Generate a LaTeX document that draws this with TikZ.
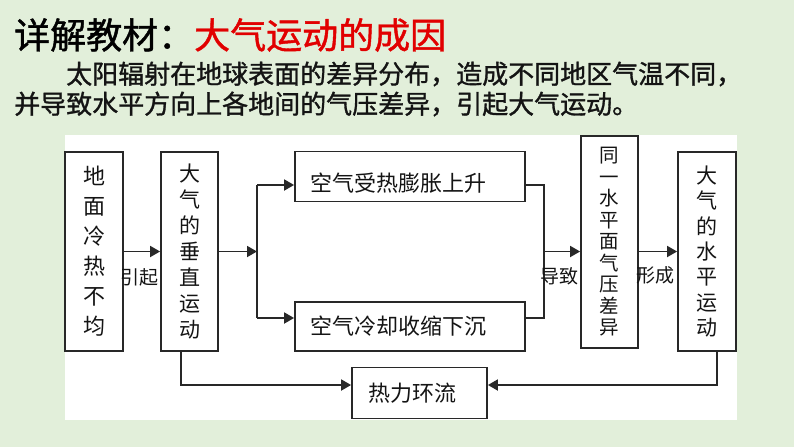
\documentclass[tikz,border=0pt]{standalone}
\usepackage{fontspec}
\newfontfamily\cjk{Noto Sans CJK SC}
\newfontfamily\cjkm[FakeBold=1.2]{Noto Sans CJK SC}
\usetikzlibrary{arrows.meta}
\definecolor{bgc}{RGB}{226,239,218}
\definecolor{titlered}{RGB}{225,0,0}
\definecolor{linec}{RGB}{40,40,40}
\definecolor{txtc}{RGB}{20,20,20}
\begin{document}
\begin{tikzpicture}[x=1pt,y=-1pt,
  box/.style={draw=linec, line width=1.8pt, fill=white, inner sep=0pt, text=txtc,
    font=\cjk\fontsize{22}{30}\selectfont, align=center},
  boxtxt/.style={anchor=west, inner sep=0pt, text=txtc, font=\cjk\fontsize{22}{22}\selectfont},
  conn/.style={draw=linec, line width=1.8pt},
  arr/.style={conn, -{Triangle[length=10pt,width=11pt]}},
  lbl/.style={inner sep=0pt, text=txtc, font=\cjk\fontsize{19}{19}\selectfont}]
\fill[bgc] (0,0) rectangle (794,447);
\useasboundingbox (0,0) rectangle (794,447);
\fill[white] (65,135) rectangle (737,420);
% heading
\node[anchor=west, inner sep=0pt, font=\cjkm\fontsize{36}{36}\selectfont] (title) at (14,35)
  {详解教材：\textcolor{titlered}{大气运动的成因}};
\node[anchor=west, inner sep=0pt, text=txtc, font=\cjkm\fontsize{26}{26}\selectfont] (para1) at (66,74)
  {太阳辐射在地球表面的差异分布，造成不同地区气温不同，};
\node[anchor=west, inner sep=0pt, text=txtc, font=\cjkm\fontsize{26}{26}\selectfont] (para2) at (14,104)
  {并导致水平方向上各地间的气压差异，引起大气运动。};
% boxes
\node[box, minimum width=58pt, minimum height=199pt] (b1) at (94,251.5) {地\\面\\冷\\热\\不\\均};
\node[box, minimum width=57pt, minimum height=199pt, font=\cjk\fontsize{21}{26}\selectfont] (b2) at (189.5,251.5) {大\\气\\的\\垂\\直\\运\\动};
\node[box, minimum width=230pt, minimum height=50pt] (ut) at (410,176.5) {};
\node[boxtxt] (uttext) at (310,183) {空气受热膨胀上升};
\node[box, minimum width=230pt, minimum height=49pt] (dt) at (410,326.5) {};
\node[boxtxt] (dttext) at (310,326) {空气冷却收缩下沉};
\node[box, minimum width=57pt, minimum height=212pt, font=\cjk\fontsize{19.5}{21.5}\selectfont] (bp) at (609.5,242) {同\\一\\水\\平\\面\\气\\压\\差\\异};
\node[box, minimum width=58pt, minimum height=199pt, font=\cjk\fontsize{21}{25.3}\selectfont] (bh) at (707,251.5) {大\\气\\的\\水\\平\\运\\动};
\node[box, minimum width=135pt, minimum height=51pt] (bt) at (419.5,393) {};
\node[boxtxt] (bttext) at (368,393) {热力环流};
% connectors
\coordinate (j) at (257,251.5);
\coordinate (ju) at (257,185);
\coordinate (jd) at (257,318);
\coordinate (k) at (544,251.5);
\coordinate (ku) at (544,185);
\coordinate (kd) at (544,318);
\coordinate (m) at (181,385);
\coordinate (n) at (717,385);
\draw[arr] (b1.east) -- (b2.west);
\draw[arr] (b2.east) -- (j);
\draw[conn] (ju) -- (jd);
\draw[arr] (ju) -- (ut.west |- ju);
\draw[arr] (jd) -- (dt.west |- jd);
\draw[conn] (ut.east |- ku) -- (ku) -- (kd) -- (dt.east |- kd);
\draw[arr] (k) -- (bp.west |- k);
\draw[arr] (bp.east |- k) -- (bh.west |- k);
\draw[arr] (b2.south -| m) -- (m) -- (bt.west |- m);
\draw[arr] (bh.south -| n) -- (n) -- (bt.east |- n);
% labels
\node[lbl] (l1) at (139,277) {引起};
\node[lbl] (l2) at (559,276) {导致};
\node[lbl] (l3) at (655,275) {形成};
\end{tikzpicture}
\end{document}
